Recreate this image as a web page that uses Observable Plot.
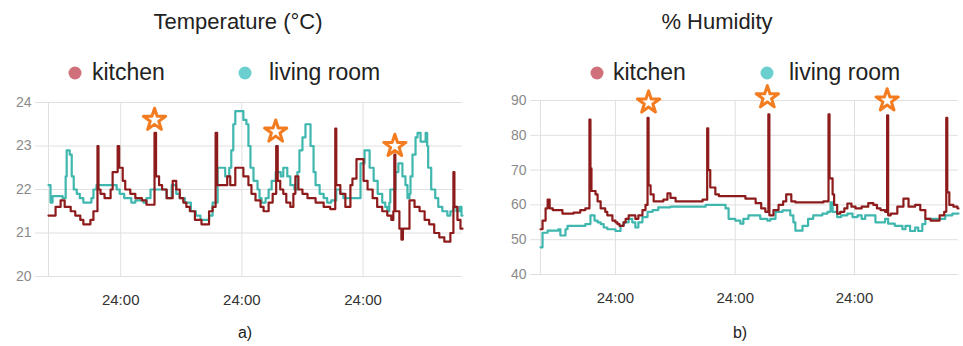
<!DOCTYPE html>
<html>
<head>
<meta charset="utf-8">
<script src="https://cdn.jsdelivr.net/npm/d3@7"></script>
<script src="https://cdn.jsdelivr.net/npm/@observablehq/plot@0.6"></script>
<style>
  html, body { margin: 0; padding: 0; background: #fff; }
  body { width: 963px; height: 346px; position: relative; overflow: hidden; font-family: "Liberation Sans", Arial, sans-serif; color: #222; }
  .abs { position: absolute; }
  .title { font-size: 22px; transform: translate(-50%, -50%); white-space: nowrap; }
  .leg { font-size: 23px; transform: translateY(-50%); white-space: nowrap; }
  .dot { width: 13px; height: 13px; border-radius: 50%; transform: translate(-50%, -50%); }
  .sub { font-size: 16px; transform: translate(-50%, -50%); }
</style>
</head>
<body>
<div id="root"></div>
<script>
// ---- Data (hours since start of recording, value) ----
const seriesNames = ["kitchen", "living room"];
const hourDomain = [0, 82];

// Temperature (°C)
const tempMidnights = [14.3, 38.3, 62.3];
const tempTicks = [20, 21, 22, 23, 24];
const tempKitchen = [
  [0,21.4],[1.4,21.6],[2.4,21.75],[3.2,21.6],[4.4,21.5],[5.3,21.4],[6.3,21.3],[6.9,21.2],[8.3,21.3],[8.9,21.5],
  [9.7,23.0],[9.9,22.0],[10.3,21.9],[11.1,21.8],[12.3,22.0],[12.7,22.4],[13.7,23.0],[14.0,22.5],[14.7,22.2],[15.2,22.0],
  [16.2,21.9],[17.2,21.8],[18.5,21.75],[19.4,21.65],[21.0,23.3],[21.3,22.3],[21.9,22.1],[22.5,22.0],[23.4,21.8],[24.6,22.2],
  [25.3,22.0],[26.0,21.8],[26.7,21.7],[27.3,21.6],[28.0,21.5],[29.0,21.3],[30.3,21.2],[31.8,21.5],[32.5,21.6],[33.1,23.3],
  [33.4,22.1],[35.4,22.3],[36.0,22.1],[37.0,22.5],[38.6,22.3],[39.6,22.1],[40.2,21.9],[41.0,21.75],[42.0,21.6],[42.6,21.5],
  [43.6,21.7],[44.4,21.9],[45.1,23.0],[45.4,22.2],[45.9,22.0],[46.5,21.9],[47.1,21.7],[47.9,21.6],[48.5,21.9],[48.9,22.3],
  [49.5,22.0],[50.3,21.9],[51.3,21.8],[52.9,21.7],[54.5,21.6],[55.8,21.55],[56.8,23.4],[57.0,22.1],[57.8,21.9],[58.8,21.6],
  [59.8,22.1],[60.2,22.25],[61.0,22.7],[62.4,22.2],[63.2,22.0],[64.2,21.8],[65.1,21.6],[66.1,21.5],[67.1,21.4],[67.9,21.3],
  [68.3,21.5],[68.5,22.8],[68.7,21.5],[69.5,21.1],[69.9,20.85],[70.2,21.1],[71.5,21.75],[72.5,21.6],[73.5,21.5],[74.5,21.3],
  [75.4,21.2],[76.4,21.0],[77.4,20.9],[78.4,20.8],[79.6,21.0],[80.2,22.4],[80.4,21.6],[81.0,21.3],[81.6,21.1],[82,21.1]
];
const tempLiving = [
  [0,22.1],[0.4,21.7],[0.8,21.85],[2.8,21.8],[3.4,22.3],[3.6,22.9],[4.2,22.8],[4.6,22.3],[5.0,22.0],[5.6,21.9],
  [6.2,21.8],[6.9,21.7],[8.5,21.8],[8.9,22.0],[9.5,22.1],[13.5,22.0],[14.1,21.9],[15.0,21.8],[16.4,21.7],[17.2,21.75],
  [18.8,21.7],[19.4,21.8],[20.2,22.0],[22.6,22.0],[23.4,21.8],[24.4,22.1],[25.3,21.9],[26.0,21.8],[27.0,21.7],[28.2,21.5],
  [29.2,21.4],[30.1,21.3],[31.8,21.4],[32.5,21.7],[33.5,22.5],[35.0,22.3],[35.8,22.5],[36.2,22.9],[36.6,23.5],[37.0,23.8],
  [38.6,23.6],[39.2,23.5],[39.6,23.0],[40.0,22.5],[40.6,22.2],[41.4,22.0],[41.8,21.8],[42.2,21.7],[43.0,21.8],[43.6,22.0],
  [44.2,22.2],[45.0,22.4],[46.0,22.3],[46.5,22.5],[47.3,22.3],[47.9,22.1],[48.7,22.0],[49.3,22.4],[49.7,22.9],[50.3,23.2],
  [50.9,23.5],[51.9,23.0],[52.5,22.4],[52.9,22.1],[53.7,21.9],[54.5,21.8],[55.2,21.7],[56.0,21.75],[57.0,22.0],[57.8,21.9],
  [58.4,21.8],[61.8,22.6],[62.6,22.9],[63.6,22.5],[64.4,22.2],[65.2,21.9],[66.1,21.7],[66.7,21.6],[67.1,21.5],[67.5,21.7],
  [67.7,22.0],[68.7,22.4],[69.3,22.6],[70.1,22.3],[70.7,22.1],[71.1,21.8],[71.5,21.9],[71.7,22.3],[72.1,22.8],[72.7,23.2],
  [73.1,23.3],[73.7,23.1],[74.7,23.3],[75.0,23.0],[75.2,22.5],[75.8,22.0],[76.6,21.8],[77.2,21.6],[78.0,21.5],[79.0,21.4],
  [79.6,21.5],[80.2,21.6],[80.8,21.5],[81.4,21.6],[81.8,21.4],[82,21.4]
];
const tempStars = [[21.0,23.6],[45.0,23.33],[68.6,23.0]];

// Humidity (%)
const humMidnights = [14.7, 38.2, 61.6];
const humTicks = [40, 50, 60, 70, 80, 90];
const humKitchen = [
  [0,53],[0.4,55.5],[1.0,59],[1.4,61.5],[1.8,59],[2.4,58.5],[4.3,57.5],[6.5,57.8],[7.8,58.5],[8.8,59],
  [9.6,84.5],[9.8,70.5],[10.0,64],[10.8,63],[11.2,61],[11.8,59],[12.7,58],[13.1,57],[14.1,55.5],[14.7,55],
  [15.1,54.5],[15.5,54],[16.3,55],[16.7,56],[17.3,57],[18.0,57],[18.6,56],[19.2,57],[20.0,58.5],[20.6,60],
  [21.0,85],[21.2,65.6],[21.6,63],[22.2,61],[24.1,61.5],[24.9,63.3],[25.5,62],[26.5,61],[31.8,61.5],[32.7,82],
  [32.9,70],[33.3,65],[34.3,63],[35.0,62.5],[40.2,61.8],[42.2,60.5],[43.3,59],[44.1,58],[44.7,86],[44.9,57],
  [45.7,58.5],[46.7,60],[47.6,61],[48.2,63],[49.2,61],[50.0,60.7],[55.5,61],[56.5,86],[56.7,67.6],[57.3,63],
  [57.6,60],[58.2,57.5],[58.8,58],[59.6,59],[60.2,60.4],[61.0,59.5],[61.8,59],[63.0,59.5],[64.3,60.5],[65.3,60],
  [66.0,59],[66.7,58.5],[67.6,58],[68.0,85.7],[68.2,57],[68.7,57.5],[70.0,59.5],[71.2,61.8],[72.2,59.5],[73.5,60],
  [74.5,58.5],[75.5,56],[76.5,55.5],[78.3,57],[79.2,58],[79.6,85],[79.8,63.6],[80.2,60],[81.0,59.5],[81.8,59],[82,59]
];
const humLiving = [
  [0,47.8],[0.4,52],[1.4,52.6],[3.5,53],[3.9,51.2],[4.9,53],[5.3,54],[8.2,54],[8.8,54.5],[9.8,57],
  [10.6,55.5],[11.2,55],[11.8,54.5],[12.4,53.5],[13.1,53],[14.7,52.5],[15.7,54],[16.3,55],[17.3,56],[18.0,55],
  [18.6,53.5],[19.2,55],[20.0,56.5],[21.0,58],[22.0,58.5],[23.1,59.3],[25.5,59.5],[32.4,60],[36.3,59],[36.9,56],
  [38.2,55.5],[39.2,54.6],[39.8,56],[40.8,57],[43.1,56],[44.5,55.5],[45.1,56],[46.1,58],[47.5,58.4],[49.0,57],
  [49.6,55],[50.0,52.6],[51.4,54],[52.5,56],[53.5,57],[55.3,57.5],[56.3,58],[56.9,60.7],[57.3,58],[58.2,56.5],
  [59.0,57],[60.2,57.5],[61.2,56.5],[62.2,57],[63.0,56],[63.7,57],[65.7,55],[67.6,56],[68.2,54.6],[69.5,54],
  [71.0,53],[71.6,54],[72.5,52.5],[73.5,53.5],[74.1,52.5],[74.9,54.5],[75.5,56],[78.8,56],[79.4,57],[80.8,57.5],[82,57.5]
];
const humStars = [[21.2,89.4],[44.5,90.9],[68.0,90.0]];

// ---- Styling ----
const kitchenColor = "#8e1b1b";
const livingColor = "#3fb7ae";
const kitchenDot = "#d0707a";
const livingDot = "#6ccfcf";
const starColor = "#f47c20";
const gridColor = "#e0e0e0";

function makeChart({kitchen, living, stars, yDomain, yTicks, midnights, width, marginLeft, marginRight, marginTop, marginBottom, tickSize}) {
  return Plot.plot({
    width, height: 225, marginLeft, marginRight, marginTop, marginBottom,
    style: {background: "transparent", fontFamily: "'Liberation Sans', Arial, sans-serif", overflow: "visible"},
    x: {domain: hourDomain, axis: null},
    y: {domain: yDomain, axis: null},
    marks: [
      Plot.gridY(yTicks, {stroke: gridColor, strokeOpacity: 1}),
      Plot.gridX(midnights, {stroke: gridColor, strokeOpacity: 1}),
      Plot.ruleX([hourDomain[0]], {stroke: gridColor}),
      Plot.axisY(yTicks, {tickSize, tickPadding: 4, stroke: gridColor, fill: "#8a8a8a", fontSize: 14}),
      Plot.axisX(midnights, {tickSize: 0, tickPadding: 18, tickFormat: () => "24:00", fill: "#333", fontSize: 15}),
      Plot.line(living, {x: d => d[0], y: d => d[1], curve: "step-after", stroke: livingColor, strokeWidth: 2.2}),
      Plot.line(kitchen, {x: d => d[0], y: d => d[1], curve: "step-after", stroke: kitchenColor, strokeWidth: 2.2}),
      Plot.dot(stars, {x: d => d[0], y: d => d[1], symbol: "star", r: 7, stroke: starColor, strokeWidth: 3, fill: "white", strokeLinejoin: "round"})
    ]
  });
}

const root = document.getElementById("root");
function place(el, left, top) {
  el.style.position = "absolute"; el.style.left = left + "px"; el.style.top = top + "px";
  root.appendChild(el);
}
function div(cls, text, left, top, extra) {
  const d = document.createElement("div");
  d.className = "abs " + cls;
  if (text) d.textContent = text;
  d.style.left = left + "px"; d.style.top = top + "px";
  if (extra) Object.assign(d.style, extra);
  root.appendChild(d);
  return d;
}

// Left panel
place(makeChart({kitchen: tempKitchen, living: tempLiving, stars: tempStars, yDomain: [20, 24], yTicks: tempTicks,
  midnights: tempMidnights, width: 480, marginLeft: 48, marginRight: 18, marginTop: 12, marginBottom: 39, tickSize: 13}), 0, 90);
// Right panel
place(makeChart({kitchen: humKitchen, living: humLiving, stars: humStars, yDomain: [40, 90], yTicks: humTicks,
  midnights: humMidnights, width: 483, marginLeft: 60, marginRight: 5, marginTop: 10, marginBottom: 41, tickSize: 10}), 480, 90);

// Titles
div("title", "Temperature (°C)", 238, 22);
div("title", "% Humidity", 717, 22);

// Legends
div("dot", "", 75, 73, {background: kitchenDot});
div("leg", seriesNames[0], 92, 72);
div("dot", "", 245, 73, {background: livingDot});
div("leg", seriesNames[1], 269, 72);
div("dot", "", 597, 73, {background: kitchenDot});
div("leg", seriesNames[0], 613, 72);
div("dot", "", 767, 73, {background: livingDot});
div("leg", seriesNames[1], 789, 72);

// Sub labels
div("sub", "a)", 245, 333);
div("sub", "b)", 740, 333);
</script>
</body>
</html>
